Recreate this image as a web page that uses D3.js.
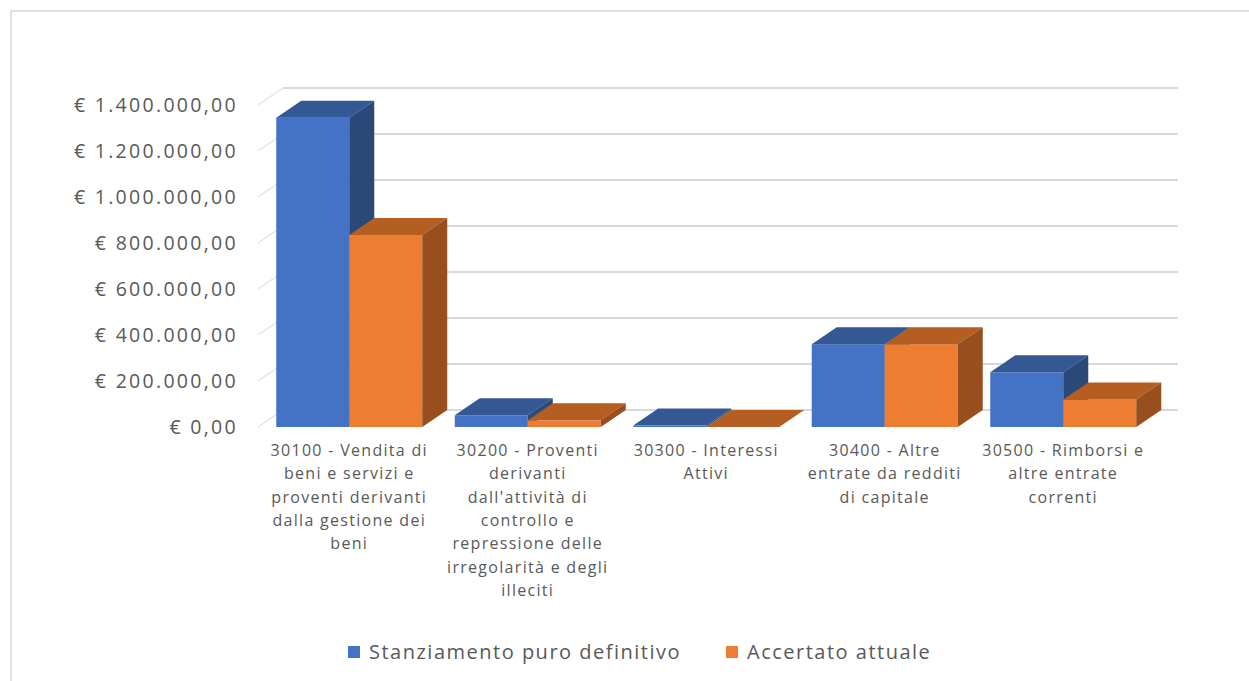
<!DOCTYPE html>
<html>
<head>
<meta charset="utf-8">
<script src="https://cdn.jsdelivr.net/npm/d3@7"></script>
<style>
  body { margin: 0; background: #fff; }
  svg { display: block; font-family: "Open Sans", sans-serif; }
</style>
</head>
<body>
<div id="chart"></div>
<script>
// data
var categories = ["30100", "30200", "30300", "30400", "30500"];
var categoryLines = [
    ["30100 - Vendita di", "beni e servizi e", "proventi derivanti", "dalla gestione dei", "beni"],
    ["30200 - Proventi", "derivanti", "dall'attività di", "controllo e", "repressione delle", "irregolarità e degli", "illeciti"],
    ["30300 - Interessi", "Attivi"],
    ["30400 - Altre", "entrate da redditi", "di capitale"],
    ["30500 - Rimborsi e", "altre entrate", "correnti"]
];
var seriesNames = ["Stanziamento puro definitivo", "Accertato attuale"];
var stanziamento = [1345000, 51000, 6000, 360000, 238000];
var accertato = [835000, 29000, 0, 360000, 120000];
var tickValues = [0, 200000, 400000, 600000, 800000, 1000000, 1200000, 1400000];

var W = 1249, H = 681;
var depth = {dx: 25, dy: -17};
var colors = {
    front: ["#4472C4", "#ED7D31"],
    top: ["#345894", "#B45E22"],
    side: ["#2A4878", "#994E1D"]
};

var svg = d3.select("#chart").append("svg")
    .attr("width", W)
    .attr("height", H);

// outer chart border (right/bottom run off the picture)
svg.append("rect")
    .attr("x", 11).attr("y", 11)
    .attr("width", 1260).attr("height", 700)
    .attr("fill", "none")
    .attr("stroke", "#d9d9d9")
    .attr("stroke-width", 1.5);

var y = d3.scaleLinear()
    .domain([0, 1400000])
    .range([427, 105]);

var x0 = d3.scaleBand()
    .domain(categories)
    .range([260, 1152.5])
    .paddingInner(0.182)
    .paddingOuter(0.091);

var x1 = d3.scaleBand()
    .domain(seriesNames)
    .range([0, x0.bandwidth()]);

var locale = d3.formatLocale({decimal: ",", thousands: ".", grouping: [3], currency: ["€ ", ""]});
var fmt = locale.format("$,.2f");

// back wall gridlines
svg.append("g")
    .selectAll("line")
    .data(tickValues)
    .enter().append("line")
    .attr("x1", 258 + depth.dx)
    .attr("x2", 1178)
    .attr("y1", function (d) { return y(d) + depth.dy; })
    .attr("y2", function (d) { return y(d) + depth.dy; })
    .attr("stroke", "#d9d9d9")
    .attr("stroke-width", 2);

// side wall diagonal ticks
svg.append("g")
    .selectAll("line")
    .data(tickValues)
    .enter().append("line")
    .attr("x1", 258)
    .attr("x2", 258 + depth.dx)
    .attr("y1", function (d) { return y(d); })
    .attr("y2", function (d) { return y(d) + depth.dy; })
    .attr("stroke", "#e3e3e3")
    .attr("stroke-width", 1.5);

// y axis labels
var yAxis = svg.append("g")
    .attr("transform", "translate(258,0)")
    .call(d3.axisLeft(y).tickValues(tickValues).tickSize(0).tickPadding(20).tickFormat(fmt));
yAxis.select(".domain").remove();
yAxis.selectAll("text")
    .attr("fill", "#595959")
    .attr("font-size", "19.5px")
    .attr("letter-spacing", "2.3px")
    .attr("font-family", "Open Sans, sans-serif");

// 3D bars, drawn left to right so right faces get covered properly
var barData = [];
categories.forEach(function (c, i) {
    barData.push({cat: c, s: 0, value: stanziamento[i]});
    barData.push({cat: c, s: 1, value: accertato[i]});
});

var bars = svg.append("g")
    .selectAll("g")
    .data(barData)
    .enter().append("g");

function pts(list) {
    return list.map(function (p) { return p.join(","); }).join(" ");
}

bars.append("rect")
    .attr("x", function (d) { return x0(d.cat) + x1(seriesNames[d.s]); })
    .attr("y", function (d) { return y(d.value); })
    .attr("width", x1.bandwidth())
    .attr("height", function (d) { return y(0) - y(d.value); })
    .attr("fill", function (d) { return colors.front[d.s]; });

bars.append("polygon")
    .attr("points", function (d) {
        var xl = x0(d.cat) + x1(seriesNames[d.s]), xr = xl + x1.bandwidth(), yt = y(d.value);
        return pts([[xl, yt], [xr, yt], [xr + depth.dx, yt + depth.dy], [xl + depth.dx, yt + depth.dy]]);
    })
    .attr("fill", function (d) { return colors.top[d.s]; });

bars.append("polygon")
    .attr("points", function (d) {
        var xr = x0(d.cat) + x1(seriesNames[d.s]) + x1.bandwidth(), yt = y(d.value), yb = y(0);
        return pts([[xr, yt], [xr + depth.dx, yt + depth.dy], [xr + depth.dx, yb + depth.dy], [xr, yb]]);
    })
    .attr("fill", function (d) { return colors.side[d.s]; });

// category labels
var catLabels = svg.append("g")
    .selectAll("text")
    .data(categories)
    .enter().append("text")
    .attr("text-anchor", "middle")
    .attr("fill", "#595959")
    .attr("font-size", "16px")
    .attr("letter-spacing", "1.3px");

catLabels.selectAll("tspan")
    .data(function (d, i) { return categoryLines[i].map(function (t) { return {t: t, c: d}; }); })
    .enter().append("tspan")
    .attr("x", function (d) { return x0(d.c) + x0.bandwidth() / 2; })
    .attr("y", function (d, j) { return 456 + j * 23.3; })
    .text(function (d) { return d.t; });

// legend
var legendX = [348, 726];
var legend = svg.append("g")
    .selectAll("g")
    .data(seriesNames)
    .enter().append("g")
    .attr("transform", function (d, i) { return "translate(" + legendX[i] + ",646)"; });
legend.append("rect")
    .attr("width", 12)
    .attr("height", 12)
    .attr("fill", function (d, i) { return colors.front[i]; });
legend.append("text")
    .attr("x", 21)
    .attr("y", 6)
    .attr("dy", "0.35em")
    .attr("fill", "#595959")
    .attr("font-size", "20px")
    .attr("letter-spacing", "1.5px")
    .text(function (d) { return d; });
</script>
</body>
</html>
